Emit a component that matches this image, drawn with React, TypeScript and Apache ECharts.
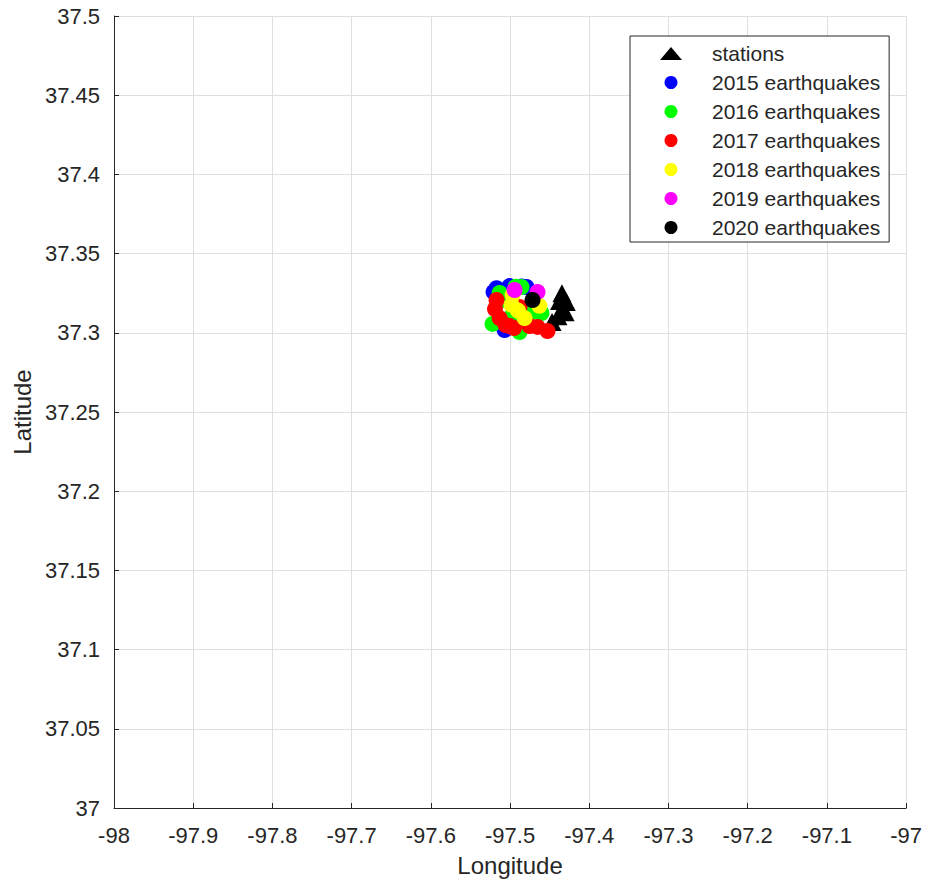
import React, { useEffect, useRef } from "react";
import * as echarts from "echarts";

// Axis ticks
const lonTicks = [-98, -97.9, -97.8, -97.7, -97.6, -97.5, -97.4, -97.3, -97.2, -97.1, -97];
const latTicks = [37, 37.05, 37.1, 37.15, 37.2, 37.25, 37.3, 37.35, 37.4, 37.45, 37.5];

// Station locations [lon, lat]
const stations: number[][] = [
  [-97.4345, 37.3250],
  [-97.4290, 37.3195],
  [-97.4335, 37.3145],
  [-97.4395, 37.3105],
  [-97.4470, 37.3068],
  [-97.4375, 37.3200],
  [-97.4305, 37.3130],
];

// Earthquake epicentres per year [lon, lat]
const quakes2015: number[][] = [
  [-97.5208, 37.3258],
  [-97.5006, 37.3295],
  [-97.4792, 37.3289],
  [-97.5069, 37.3018],
  [-97.5150, 37.3240],
  [-97.5170, 37.3282],
  [-97.4850, 37.3292],
];
const quakes2016: number[][] = [
  [-97.4855, 37.3289],
  [-97.5132, 37.3251],
  [-97.5221, 37.3056],
  [-97.4880, 37.3005],
  [-97.4716, 37.3131],
  [-97.4603, 37.3125],
  [-97.5069, 37.3207],
  [-97.4930, 37.3290],
  [-97.4990, 37.3100],
  [-97.4790, 37.3060],
];
const quakes2017: number[][] = [
  [-97.5170, 37.3207],
  [-97.5132, 37.3093],
  [-97.5006, 37.3043],
  [-97.4754, 37.3043],
  [-97.4880, 37.3163],
  [-97.4653, 37.3037],
  [-97.4527, 37.3011],
  [-97.5057, 37.3049],
  [-97.5190, 37.3150],
  [-97.4950, 37.3030],
];
const quakes2018: number[][] = [
  [-97.4981, 37.3176],
  [-97.4968, 37.3239],
  [-97.4817, 37.3093],
  [-97.4900, 37.3140],
  [-97.4630, 37.3170],
];
const quakes2019: number[][] = [
  [-97.4943, 37.3270],
  [-97.4653, 37.3258],
];
const quakes2020: number[][] = [[-97.4716, 37.3207]];

const seriesNames = [
  "stations",
  "2015 earthquakes",
  "2016 earthquakes",
  "2017 earthquakes",
  "2018 earthquakes",
  "2019 earthquakes",
  "2020 earthquakes",
];
const seriesColors = ["#000000", "#0000ff", "#00ff00", "#ff0000", "#ffff00", "#ff00ff", "#000000"];

const FONT = "'Liberation Sans', Arial, Helvetica, sans-serif";
const INK = "#262626";
const GRID = "#dfdfdf";

const fmt = (v: number) => String(parseFloat(v.toFixed(2)));

export default function App() {
  const ref = useRef<HTMLDivElement>(null);

  useEffect(() => {
    if (!ref.current) return;
    const chart = echarts.init(ref.current, undefined, { renderer: "svg" });

    const quakeSets = [quakes2015, quakes2016, quakes2017, quakes2018, quakes2019, quakes2020];

    const series: any[] = [
      {
        name: seriesNames[0],
        type: "scatter",
        data: stations,
        symbol: "triangle",
        symbolSize: [19, 18],
        itemStyle: { color: seriesColors[0], opacity: 1 },
      },
      ...quakeSets.map((d, i) => ({
        name: seriesNames[i + 1],
        type: "scatter",
        data: d,
        symbol: "circle",
        symbolSize: 16,
        itemStyle: { color: seriesColors[i + 1], opacity: 1 },
      })),
    ];

    chart.setOption({
      animation: false,
      backgroundColor: "#ffffff",
      textStyle: { fontFamily: FONT },
      grid: { left: 114, right: 18, top: 16, bottom: 76, containLabel: false },
      xAxis: {
        type: "value",
        min: lonTicks[0],
        max: lonTicks[lonTicks.length - 1],
        interval: 0.1,
        name: "Longitude",
        nameLocation: "middle",
        nameGap: 45,
        nameTextStyle: { color: INK, fontSize: 24, fontFamily: FONT },
        axisLine: { show: true, onZero: false, lineStyle: { color: INK, width: 1 } },
        axisTick: { show: true, inside: true, length: 5, lineStyle: { color: INK } },
        axisLabel: { color: INK, fontSize: 22, fontFamily: FONT, margin: 16, formatter: fmt },
        splitLine: { show: true, lineStyle: { color: GRID, width: 1 } },
      },
      yAxis: {
        type: "value",
        min: latTicks[0],
        max: latTicks[latTicks.length - 1],
        interval: 0.05,
        name: "Latitude",
        nameLocation: "middle",
        nameGap: 80,
        nameTextStyle: { color: INK, fontSize: 24, fontFamily: FONT },
        axisLine: { show: true, onZero: false, lineStyle: { color: INK, width: 1 } },
        axisTick: { show: true, inside: true, length: 5, lineStyle: { color: INK } },
        axisLabel: { color: INK, fontSize: 22, fontFamily: FONT, margin: 14, formatter: fmt },
        splitLine: { show: true, lineStyle: { color: GRID, width: 1 } },
      },
      legend: {
        orient: "vertical",
        left: 630,
        top: 36,
        padding: [7, 9, 4, 30],
        itemWidth: 22,
        itemHeight: 13,
        itemGap: 8,
        backgroundColor: "#ffffff",
        borderColor: INK,
        borderWidth: 1,
        borderRadius: 0,
        textStyle: {
          color: INK,
          fontSize: 21,
          lineHeight: 21,
          fontFamily: FONT,
          padding: [0, 0, 0, 25],
        },
        data: seriesNames.map((n, i) => ({
          name: n,
          icon: i === 0 ? "triangle" : "circle",
        })),
      },
      series,
    });

    return () => chart.dispose();
  }, []);

  return (
    <div
      ref={ref}
      style={{ position: "absolute", left: 0, top: 0, width: 925, height: 884 }}
    />
  );
}
